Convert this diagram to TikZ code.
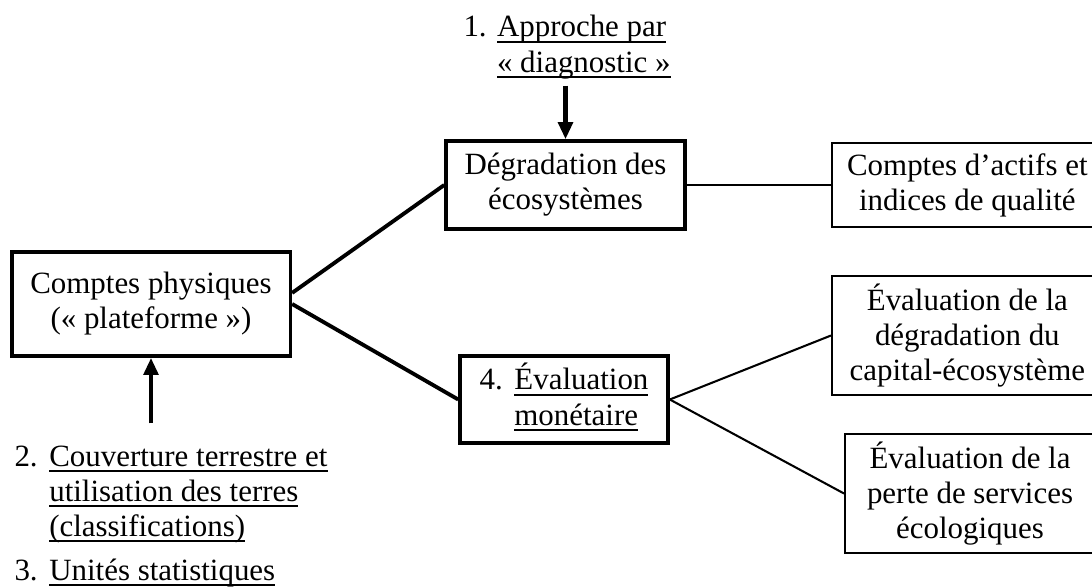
\documentclass[tikz,border=0pt]{standalone}
\usepackage{fontspec}
\setmainfont{Liberation Serif}
\usetikzlibrary{arrows.meta}
\tikzstyle{box}=[draw,align=center,inner sep=0pt,line width=.8pt]
\tikzstyle{main}=[box,line width=1.4pt]
\tikzstyle{cut}=[box,anchor=west]
\tikzstyle{link}=[line width=.8pt]
\tikzstyle{trunk}=[line width=1.5pt]
\tikzstyle{feed}=[-{Triangle[length=6.6pt,width=5.6pt]},line width=1.6pt]
\newcommand\undl[1]{\setbox0\hbox{#1}\rlap{\rule[-2.2pt]{\wd0}{.6pt}}\box0}
% text centred on the visible part of a box that runs off the page
\newcommand\cuttext[2]{\parbox{#1}{\centering #2}\hspace{30pt}}

\begin{document}
\begin{tikzpicture}[x=0.388pt, y=-0.388pt,
    font=\fontsize{12pt}{13.6pt}\selectfont]
  \useasboundingbox (0,0) rectangle (1092,588);

  % central boxes
  \node[main, minimum width=108.1pt, minimum height=40.4pt] (phys) at (151,304)
    {Comptes physiques\\(« plateforme »)};
  \node[main, minimum width=92.7pt, minimum height=34.1pt] (deg) at (565.5,185)
    {Dégradation des\\écosystèmes};
  \node[main, minimum width=80.7pt, minimum height=33.8pt] (mon) at (564,399.5)
    {\begin{tabular}[t]{@{}p{13.5pt}@{}l@{}}
      4. & \undl{Évaluation}\\
         & \undl{monétaire}
     \end{tabular}};

  % right-hand boxes (cut by the page edge)
  \node[cut, minimum height=32.6pt] (act) at (831,185)
    {\cuttext{105pt}{Comptes d’actifs et\\indices de qualité}};
  \node[cut, minimum height=46.2pt] (ev1) at (831,335.5)
    {\cuttext{105pt}{Évaluation de la\\dégradation du\\capital-écosystème}};
  \node[cut, minimum height=46.2pt] (ev2) at (844,493.5)
    {\cuttext{97pt}{Évaluation de la\\perte de services\\écologiques}};

  % numbered approaches
  \node[inner sep=0pt, anchor=base west] (diag) at (463,37)
    {\begin{tabular}[t]{@{}p{13pt}@{}l@{}}
      1. & \undl{Approche par}\\
         & \undl{« diagnostic »}
     \end{tabular}};
  \node[inner sep=0pt, anchor=base west] (couv) at (14,466)
    {\begin{tabular}[t]{@{}p{13.5pt}@{}l@{}}
      2. & \undl{Couverture terrestre et}\\
         & \undl{utilisation des terres}\\
         & \undl{(classifications)}
     \end{tabular}};
  \node[inner sep=0pt, anchor=base west] (unit) at (14,580)
    {\begin{tabular}[t]{@{}p{13.5pt}@{}l@{}}
      3. & \undl{Unités statistiques}
     \end{tabular}};

  \draw[trunk] ([yshift=4.3pt]phys.east) -- (deg.west);
  \draw[trunk] (phys.east) -- (mon.west);
  \draw[link] (deg) -- (act);
  \draw[link] (mon.east) -- (ev1.west);
  \draw[link] (mon.east) -- (ev2.west);

  \draw[feed, shorten <=1pt] (deg.north |- diag.south) -- (deg.north);
  \draw[feed, shorten <=6.8pt] (phys.south |- couv.north) -- (phys.south);
\end{tikzpicture}
\end{document}
